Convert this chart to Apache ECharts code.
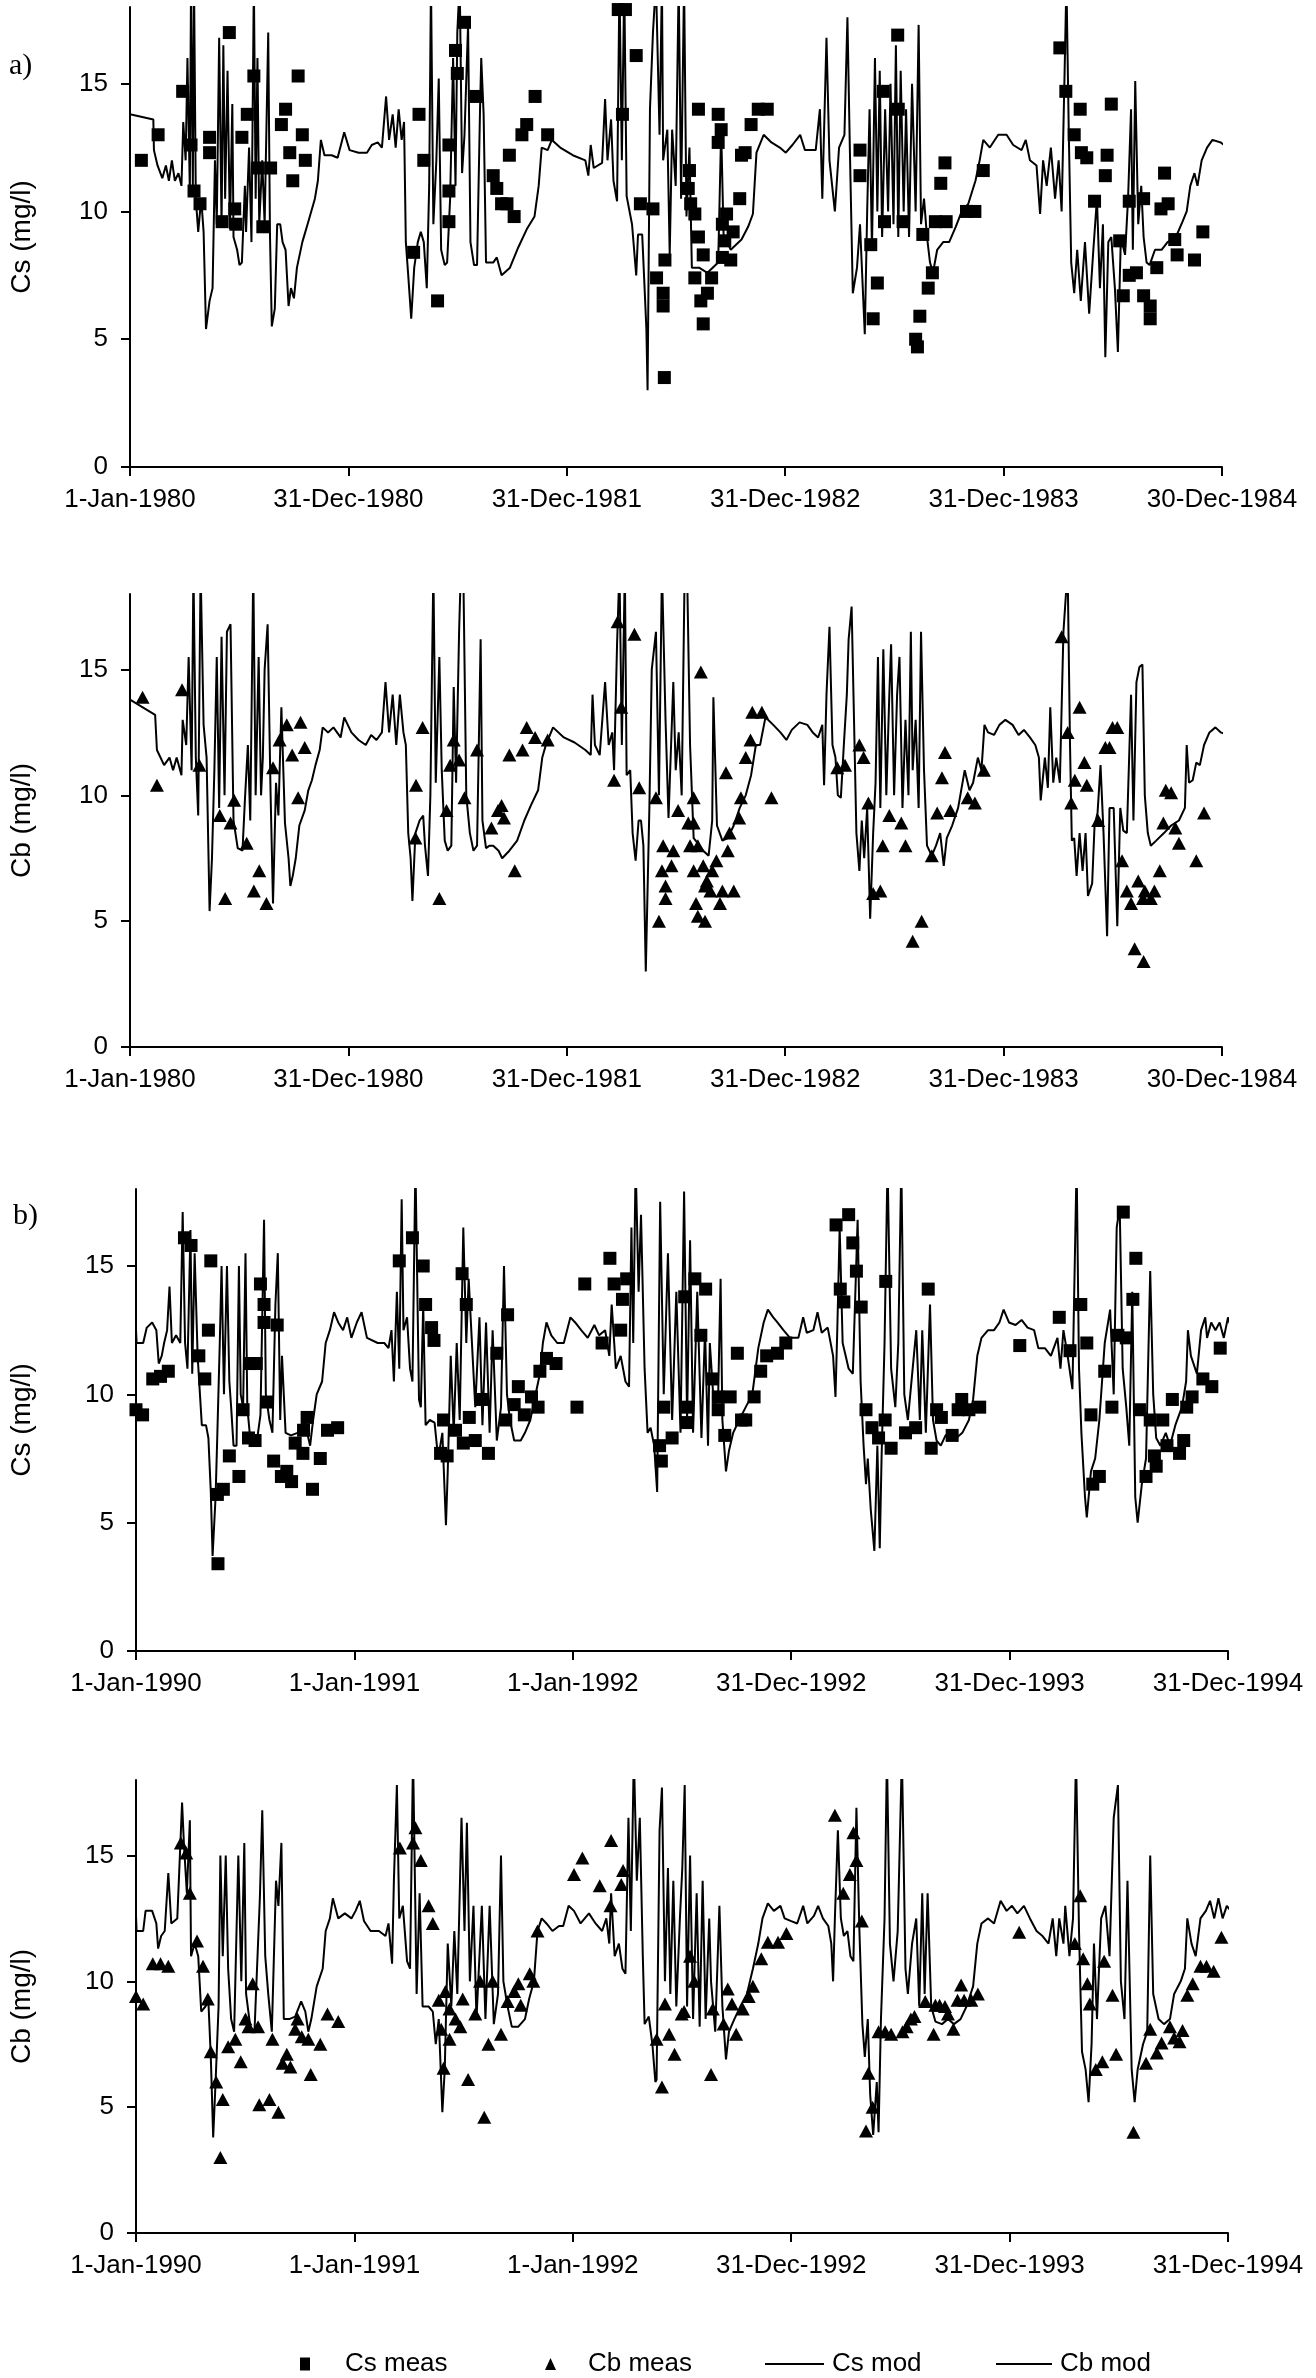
<!DOCTYPE html>
<html><head><meta charset="utf-8">
<script src="https://cdn.jsdelivr.net/npm/echarts@6/dist/echarts.min.js"></script>
<style>html,body{margin:0;padding:0;background:#fff}#c{width:1316px;height:2378px}</style>
</head><body><div id="c"></div>
<script>
// ---------- DATA (x = days since start date, y = mg/l) ----------
const xLabels80 = ['1-Jan-1980','31-Dec-1980','31-Dec-1981','31-Dec-1982','31-Dec-1983','30-Dec-1984'];
const xLabels90 = ['1-Jan-1990','1-Jan-1991','1-Jan-1992','31-Dec-1992','31-Dec-1993','31-Dec-1994'];
const yTicks = [0,5,10,15];

const csMod80 = [[0,13.8],[39,13.6],[40,12.4],[46,11.8],[54,11.3],[60,11.8],[65,11.2],[70,12.0],[75,11.2],[81,11.5],[86,11.0],[89,13.5],[93,12.0],[96,16.0],[100,10.8],[102,19],[105,11.0],[107,19],[110,10.5],[114,9.2],[119,10.5],[123,9.2],[127,5.4],[133,6.5],[138,7.0],[142,12.0],[145,9.5],[149,16.8],[153,9.5],[156,16.5],[159,10.5],[163,15.5],[167,9.3],[171,14.2],[173,9.0],[179,8.5],[183,7.9],[187,8.0],[192,11.0],[194,9.2],[199,12.5],[203,8.8],[207,19],[210,10.5],[213,16.0],[216,9.5],[221,12],[225,9.5],[231,17],[234,9.0],[237,5.5],[242,6.2],[246,9.5],[251,9.5],[255,8.8],[260,8.5],[265,6.3],[269,7.0],[274,6.6],[279,7.8],[288,8.8],[298,9.6],[309,10.5],[314,11.2],[319,12.8],[325,12.2],[337,12.2],[347,12.1],[358,13.1],[367,12.4],[382,12.3],[396,12.3],[404,12.6],[414,12.7],[421,12.5],[428,14.5],[433,12.8],[439,13.8],[444,12.5],[449,14.0],[454,12.8],[458,13.5],[461,8.8],[465,7.5],[470,5.8],[475,7.8],[481,8.8],[486,9.2],[491,8.8],[496,7.0],[500,11],[503,19],[507,9.5],[512,12],[516,15.2],[520,8.5],[526,7.9],[530,8.0],[535,10.5],[540,16],[544,11],[547,17],[551,19],[555,11.5],[559,13],[565,17.3],[569,8.8],[575,7.9],[580,7.9],[585,14.0],[587,16],[591,13.8],[595,8.0],[607,8.0],[613,8.2],[621,7.5],[635,7.8],[649,8.6],[663,9.3],[676,9.8],[683,11.0],[688,12.5],[698,12.4],[705,12.8],[719,12.5],[740,12.2],[761,12.0],[766,11.4],[770,12.6],[775,11.7],[789,11.9],[794,14.4],[798,12.0],[804,13.6],[808,11.2],[814,10.4],[818,19],[822,12],[826,19],[830,10.6],[839,9.5],[846,7.5],[849,9.1],[856,9.1],[860,7.0],[863,5.4],[865,3.0],[869,14.0],[874,17],[879,19],[885,13],[889,19],[891,12],[898,13.2],[902,8.3],[906,13.2],[912,11],[917,19],[921,10.5],[926,19],[930,9.8],[935,12.5],[939,7.8],[951,7.8],[965,7.6],[983,8.0],[988,13.2],[992,9.1],[1004,8.5],[1022,8.9],[1033,9.4],[1041,9.9],[1047,12.3],[1059,13.0],[1072,12.7],[1086,12.5],[1096,12.3],[1107,12.6],[1120,13.0],[1128,12.4],[1146,12.4],[1153,14.0],[1157,10.5],[1164,16.8],[1169,12.0],[1178,10.0],[1185,12.5],[1194,13.0],[1199,17.6],[1203,12.5],[1208,6.8],[1215,7.8],[1220,9.5],[1228,5.2],[1232,10],[1236,14.0],[1240,8.5],[1245,16.0],[1249,10.0],[1253,15.5],[1257,9.0],[1262,14.0],[1267,10],[1271,15],[1276,9.5],[1280,16.5],[1284,9.0],[1288,15.5],[1293,10],[1297,14],[1302,9],[1307,15],[1313,10],[1318,17.3],[1322,9.5],[1327,10.5],[1332,9.0],[1337,8.0],[1342,7.6],[1349,8.5],[1359,8.8],[1369,8.8],[1380,9.4],[1390,10.0],[1401,10.3],[1413,11.2],[1420,12.0],[1426,12.8],[1437,12.5],[1451,13.0],[1465,13.0],[1476,12.6],[1490,12.4],[1497,12.8],[1504,12.0],[1515,11.8],[1521,9.9],[1526,12.0],[1532,11.0],[1539,12.5],[1546,10.5],[1552,12],[1557,10],[1562,15.5],[1565,19],[1569,13.0],[1573,8.0],[1578,6.8],[1583,8.5],[1589,6.5],[1596,8.8],[1603,6.0],[1610,8.5],[1616,10.5],[1621,7.0],[1626,9.5],[1630,4.3],[1635,8.8],[1640,9.0],[1646,7.0],[1651,4.5],[1656,9.0],[1663,8.3],[1668,10.5],[1673,14.0],[1676,8.5],[1680,15.1],[1685,9.5],[1690,11],[1694,9.0],[1699,8.0],[1704,7.9],[1713,8.5],[1724,8.5],[1734,8.8],[1748,9.0],[1759,9.6],[1766,10.0],[1772,11.0],[1779,11.5],[1784,11.0],[1791,12.0],[1800,12.5],[1809,12.8],[1823,12.7],[1834,12.5]];

const csMeas80 = [[19,12.0],[47,13.0],[88,14.7],[102,12.6],[107,10.8],[117,10.3],[133,12.9],[133,12.3],[154,9.6],[166,17.0],[175,10.1],[177,9.5],[187,12.9],[196,13.8],[207,15.3],[213,11.7],[222,9.4],[235,11.7],[253,13.4],[260,14.0],[267,12.3],[272,11.2],[281,15.3],[288,13.0],[293,12.0],[474,8.4],[483,13.8],[491,12.0],[514,6.5],[533,12.6],[533,10.8],[533,9.6],[544,16.3],[547,15.4],[559,17.4],[578,14.5],[607,11.4],[613,10.9],[621,10.3],[630,10.3],[634,12.2],[642,9.8],[655,13.0],[663,13.4],[677,14.5],[698,13.0],[816,17.9],[823,13.8],[828,17.9],[846,16.1],[853,10.3],[874,10.1],[880,7.4],[891,6.8],[891,6.3],[893,3.5],[894,8.1],[933,10.9],[935,11.6],[937,10.3],[944,9.9],[944,7.4],[950,14.0],[950,9.0],[954,6.5],[958,8.3],[958,5.6],[965,6.8],[972,7.4],[983,13.8],[983,12.7],[988,13.2],[990,9.5],[990,8.2],[994,8.85],[997,9.9],[1004,8.1],[1008,9.2],[1019,10.5],[1022,12.2],[1028,12.3],[1038,13.4],[1050,14.0],[1065,14.0],[1220,12.4],[1220,11.4],[1238,8.7],[1242,5.8],[1249,7.2],[1259,14.7],[1261,9.6],[1283,16.9],[1284,14.0],[1292,9.6],[1313,5.0],[1316,4.7],[1320,5.9],[1325,9.1],[1334,7.0],[1341,7.6],[1346,9.6],[1355,11.1],[1362,11.9],[1364,9.6],[1398,10.0],[1412,10.0],[1426,11.6],[1554,16.4],[1564,14.7],[1578,13.0],[1588,14.0],[1590,12.3],[1599,12.1],[1612,10.4],[1630,11.4],[1633,12.2],[1640,14.2],[1654,8.85],[1660,6.7],[1670,10.4],[1670,7.5],[1682,7.6],[1694,10.5],[1694,6.7],[1705,6.3],[1705,5.8],[1716,7.8],[1723,10.1],[1729,11.5],[1735,10.3],[1746,8.9],[1750,8.3],[1779,8.1],[1793,9.2]];

const cbMod80 = [[0,13.8],[42,13.2],[45,11.8],[57,11.2],[66,11.5],[72,11.0],[78,11.5],[86,10.8],[88,13.0],[94,12.0],[98,15.5],[103,11.0],[106,19],[110,11.5],[114,9.2],[118,19],[123,12.8],[128,11.5],[133,5.4],[137,7.5],[141,11.0],[145,15.5],[149,9.5],[153,16.3],[158,10],[162,16.5],[168,16.8],[173,9.0],[180,7.9],[188,7.8],[192,9.8],[197,12],[201,9.0],[206,19],[210,10],[215,15.5],[219,10],[222,11.5],[225,15],[230,16.8],[235,10],[239,5.7],[244,10.5],[248,9.2],[253,13.5],[259,8.9],[265,7.5],[268,6.4],[272,6.8],[277,7.5],[283,8.8],[292,9.4],[298,10.2],[304,10.6],[310,11.2],[317,11.8],[322,12.7],[331,12.5],[340,12.7],[352,12.3],[358,13.1],[370,12.5],[382,12.2],[394,12.0],[403,12.4],[412,12.2],[421,12.5],[427,14.5],[433,12.5],[439,14.0],[445,12.0],[451,14.0],[457,12.5],[461,12],[465,8.5],[469,7.5],[472,5.8],[477,8.5],[484,9.0],[490,9.2],[493,8.0],[498,6.8],[502,10],[507,19],[511,10.5],[517,15.5],[521,11],[526,8.2],[531,7.8],[537,8.0],[541,14.3],[545,10.5],[550,16.5],[553,19],[557,19],[562,10.0],[568,8.5],[574,7.8],[580,8.0],[586,16.2],[589,9],[595,7.9],[601,8.0],[607,8.0],[616,7.8],[622,7.5],[634,7.8],[647,8.2],[659,9.0],[670,9.6],[682,10.2],[689,11.5],[695,12.0],[707,12.7],[725,12.3],[743,12.1],[761,11.8],[770,11.6],[773,14.0],[777,12.0],[785,11.6],[794,14.5],[800,12],[806,12.5],[809,11.0],[814,16],[818,19],[822,12],[827,19],[830,10.8],[836,11.0],[840,8.5],[845,7.4],[850,9.0],[854,9.0],[858,8.0],[862,3.0],[868,9.5],[872,15],[879,16.5],[884,10],[889,19],[895,13],[900,9.1],[908,14.5],[912,11],[917,12.5],[922,10],[927,19],[931,19],[936,12],[942,8.3],[952,8.0],[958,7.8],[967,7.6],[973,9],[975,13.9],[981,8.8],[990,8.2],[999,8.3],[1009,8.8],[1019,9.5],[1029,10.0],[1038,10.8],[1046,12.0],[1053,12.0],[1062,13.1],[1075,12.8],[1087,12.5],[1097,12.2],[1106,12.6],[1119,12.9],[1132,12.8],[1141,12.5],[1150,12.3],[1157,12.8],[1160,10.4],[1164,14.0],[1169,16.7],[1174,12],[1179,11.5],[1183,10.0],[1188,9.9],[1193,12],[1198,14.0],[1201,16.2],[1206,17.5],[1210,13],[1214,8.5],[1219,7.0],[1223,9],[1227,7.5],[1232,9.5],[1237,5.1],[1242,8.5],[1246,10.5],[1250,15.5],[1254,9.5],[1259,15.8],[1264,10],[1269,14],[1272,16],[1277,10],[1282,14],[1286,15.5],[1291,9.5],[1296,13],[1301,10],[1305,16.5],[1308,11],[1313,13],[1318,9.5],[1322,16.5],[1327,11],[1332,8.0],[1340,7.6],[1347,8.0],[1354,8.5],[1360,7.2],[1365,8.3],[1374,8.8],[1384,9.5],[1395,11.0],[1403,10.2],[1409,10.5],[1417,11.5],[1423,11.0],[1428,12.8],[1434,12.5],[1444,12.4],[1453,12.8],[1463,13.0],[1475,12.8],[1485,12.4],[1494,12.6],[1504,12.3],[1513,12.0],[1519,11.5],[1522,9.8],[1529,11.5],[1534,10.3],[1538,13.5],[1543,10.5],[1548,11.5],[1554,10.5],[1560,16.5],[1567,19],[1571,12],[1574,8.2],[1578,8.3],[1582,6.8],[1587,8.5],[1592,7.0],[1597,8.5],[1601,6.0],[1608,6.5],[1612,8.8],[1617,9.3],[1622,11.2],[1627,8.5],[1633,4.4],[1637,9.5],[1644,9.5],[1650,4.8],[1655,9.5],[1660,8.6],[1666,8.5],[1673,14.0],[1677,9.0],[1682,14.5],[1687,15.1],[1692,15.2],[1696,10],[1701,8.5],[1706,8.0],[1715,8.2],[1728,8.5],[1740,8.8],[1753,9.0],[1763,9.5],[1766,12.0],[1770,10.5],[1776,10.6],[1782,11.3],[1788,11.2],[1795,12.0],[1804,12.5],[1814,12.7],[1823,12.5],[1835,12.4]];

const cbMeas80 = [[21,13.9],[45,10.4],[87,14.2],[116,11.2],[150,9.2],[159,5.9],[168,8.9],[174,9.8],[195,8.1],[207,6.2],[216,7.0],[228,5.7],[239,11.1],[250,12.2],[262,12.8],[271,11.6],[281,9.9],[285,12.9],[292,11.9],[477,8.3],[478,10.4],[489,12.7],[517,5.9],[529,9.4],[535,11.2],[541,12.2],[550,11.4],[559,9.9],[580,11.8],[604,8.7],[615,9.4],[621,9.6],[625,9.1],[634,11.6],[643,7.0],[656,11.8],[663,12.7],[677,12.3],[698,12.2],[809,10.6],[815,16.9],[821,13.5],[843,16.4],[851,10.3],[879,9.9],[884,5.0],[889,7.0],[891,8.0],[895,6.4],[895,5.9],[905,7.2],[908,7.8],[916,9.4],[933,8.9],[936,8.0],[942,8.9],[942,9.9],[942,7.0],[946,5.7],[949,8.0],[949,5.2],[954,14.9],[958,7.2],[961,5.0],[961,6.4],[964,6.6],[970,6.2],[973,7.0],[980,7.4],[986,5.7],[990,6.2],[996,10.9],[999,7.8],[1002,8.5],[1009,6.2],[1018,9.1],[1021,9.9],[1029,11.5],[1037,12.2],[1040,13.3],[1056,13.3],[1072,9.9],[1182,11.1],[1195,11.2],[1219,12.0],[1226,11.5],[1234,9.7],[1242,6.1],[1254,6.2],[1258,8.0],[1269,9.2],[1289,8.9],[1296,8.0],[1308,4.2],[1323,5.0],[1340,7.6],[1349,9.3],[1357,10.7],[1362,11.7],[1371,9.4],[1400,9.9],[1412,9.7],[1427,11.0],[1557,16.3],[1567,12.5],[1573,9.7],[1579,10.6],[1587,13.5],[1595,11.3],[1599,10.4],[1618,9.0],[1630,11.9],[1637,11.9],[1642,12.7],[1650,12.7],[1658,7.4],[1666,6.2],[1673,5.7],[1679,3.9],[1685,6.6],[1693,5.9],[1694,3.4],[1696,6.2],[1706,5.9],[1712,6.2],[1721,7.0],[1727,8.9],[1731,10.2],[1740,10.1],[1747,8.7],[1753,8.1],[1782,7.4],[1795,9.3]];

const csMod90 = [[0,12.5],[1,12.0],[12,12.0],[18,12.6],[27,12.8],[34,12.5],[38,11.2],[43,11.5],[47,12.0],[52,12.5],[56,14.2],[60,12.0],[67,12.3],[74,12.0],[78,17.1],[82,12],[86,11.0],[91,16.4],[94,10.8],[98,15.5],[103,11.5],[110,8.8],[117,8.8],[121,8.3],[125,6.2],[128,3.7],[133,6.0],[136,8.5],[140,12.0],[143,15.0],[147,10],[152,15.0],[156,10.5],[159,9.5],[163,8.0],[168,8.0],[172,15.0],[175,10.0],[179,9.5],[183,15.5],[186,9.5],[190,8.5],[195,8.0],[201,8.0],[208,9.2],[214,16.8],[217,10.0],[223,9.0],[228,8.5],[233,13.5],[237,15.5],[241,9.0],[244,11.5],[250,8.5],[259,8.4],[270,8.5],[281,9.0],[288,8.3],[291,8.0],[296,9.0],[302,10.0],[311,10.5],[317,12.0],[324,12.5],[331,13.2],[338,12.8],[346,12.5],[353,13.0],[360,12.2],[369,12.8],[377,13.2],[386,12.2],[404,12.0],[415,12.0],[422,11.8],[427,12.5],[431,10.5],[436,14.0],[440,11.0],[444,17.6],[447,12.5],[453,13.0],[458,11.0],[462,10.5],[467,19],[473,9.8],[476,9.5],[480,13.5],[484,8.8],[491,9.0],[499,8.9],[505,7.5],[512,8.5],[518,4.9],[521,7.0],[526,11.5],[531,8.5],[536,12],[541,9.0],[547,16.5],[552,12.0],[556,14.5],[561,12.2],[567,9.5],[574,13.0],[579,8.8],[585,12.8],[591,8.5],[596,12.5],[603,8.2],[610,9.5],[615,15.0],[620,10],[625,9.0],[632,8.2],[643,8.2],[650,8.5],[659,9.0],[666,9.8],[675,10.8],[680,12.0],[686,12.8],[694,12.3],[704,12.0],[715,12.0],[726,13.0],[734,12.8],[744,12.5],[755,12.2],[766,12.7],[774,12.3],[784,12.5],[791,11.5],[795,13.5],[802,11.0],[810,11.5],[818,10.5],[824,10.3],[828,16.5],[831,12.0],[835,19],[840,14.0],[844,17.0],[850,11.0],[855,8.5],[860,8.7],[866,8.0],[871,6.2],[876,17.5],[882,10],[889,15.5],[896,9.0],[903,14.0],[910,8.5],[916,17.9],[921,9.0],[926,16.0],[931,8.5],[938,14.0],[945,8.3],[951,12.5],[956,8.0],[959,12.0],[966,9.5],[973,10.0],[977,14.5],[980,9.0],[986,7.0],[991,7.8],[998,8.5],[1008,9.0],[1019,9.5],[1030,10.0],[1040,11.8],[1049,12.8],[1056,13.3],[1065,13.0],[1072,12.8],[1082,12.5],[1093,12.2],[1107,12.2],[1115,13.0],[1121,12.4],[1132,12.5],[1139,13.2],[1146,12.4],[1156,12.6],[1165,11.5],[1169,9.9],[1172,12.5],[1176,16.5],[1181,12.0],[1186,11.5],[1191,11.0],[1198,10.8],[1206,16.8],[1211,10.5],[1216,8.0],[1220,6.5],[1223,7.5],[1228,5.5],[1234,3.9],[1239,8.0],[1243,4.0],[1246,7.5],[1251,12.0],[1256,19],[1262,11.0],[1269,9.5],[1274,12.0],[1279,19],[1284,10.0],[1290,9.0],[1298,11.0],[1304,12.5],[1310,9.0],[1314,12.5],[1320,8.5],[1327,13.5],[1332,9.0],[1338,8.2],[1345,8.0],[1353,8.4],[1360,8.5],[1371,8.3],[1381,8.5],[1392,9.0],[1399,9.8],[1406,11.5],[1413,12.2],[1424,12.5],[1434,12.5],[1443,12.8],[1450,13.3],[1459,12.8],[1470,12.7],[1480,12.9],[1490,12.6],[1501,12.5],[1508,11.8],[1519,11.8],[1529,11.5],[1540,12.2],[1545,11.0],[1550,12.5],[1557,11.5],[1565,10.2],[1572,19],[1576,11.0],[1580,8.5],[1586,6.0],[1589,5.2],[1596,7.0],[1603,7.5],[1610,9.0],[1619,12],[1628,13.3],[1634,10],[1639,16.5],[1644,17.3],[1649,11.0],[1655,9.5],[1660,8.0],[1665,14.0],[1670,6.0],[1674,5.0],[1681,6.5],[1688,7.5],[1695,14.8],[1700,10],[1705,8.3],[1712,8.0],[1721,8.5],[1728,8.0],[1737,8.8],[1748,9.5],[1755,10.5],[1758,12.5],[1763,11.5],[1773,10.8],[1780,12.5],[1787,13.0],[1790,12.2],[1797,12.8],[1804,12.5],[1811,12.8],[1818,12.2],[1825,13.0],[1831,12.5]];

const csMeas90 = [[0,9.4],[11,9.2],[28,10.6],[41,10.7],[54,10.9],[81,16.1],[92,15.8],[105,11.5],[115,10.6],[121,12.5],[125,15.2],[136,6.1],[137,3.4],[146,6.3],[156,7.6],[172,6.8],[179,9.4],[188,8.3],[190,11.2],[199,8.2],[201,11.2],[208,14.3],[214,13.5],[214,12.8],[219,9.7],[230,7.4],[236,12.7],[243,6.8],[252,7.0],[260,6.6],[266,8.1],[279,7.7],[280,8.6],[286,9.1],[295,6.3],[308,7.5],[320,8.6],[337,8.7],[440,15.2],[462,16.1],[480,15.0],[484,13.5],[494,12.6],[498,12.1],[509,7.7],[514,9.0],[520,7.6],[534,8.6],[545,14.7],[547,8.1],[552,13.5],[557,9.1],[567,8.2],[578,9.8],[589,7.7],[603,11.6],[618,9.0],[621,13.1],[632,9.6],[639,10.3],[649,9.2],[661,9.9],[672,9.5],[675,10.9],[686,11.4],[702,11.2],[737,9.5],[750,14.3],[779,12.0],[792,15.3],[799,14.3],[810,12.5],[813,13.7],[820,14.5],[882,9.5],[875,8.0],[878,7.4],[896,8.3],[917,13.8],[921,8.9],[922,9.5],[934,14.5],[944,12.3],[952,14.1],[963,10.6],[973,9.9],[973,9.4],[984,8.4],[993,9.9],[1005,11.6],[1012,9.0],[1019,9.0],[1033,9.9],[1044,10.9],[1054,11.5],[1072,11.6],[1086,12.0],[1170,16.6],[1177,14.1],[1183,13.6],[1191,17.0],[1198,15.9],[1204,14.8],[1212,13.4],[1220,9.4],[1230,8.7],[1241,8.3],[1252,9.0],[1253,14.4],[1262,7.9],[1286,8.5],[1303,8.7],[1324,14.1],[1329,7.9],[1338,9.4],[1346,9.1],[1364,8.4],[1374,9.4],[1380,9.8],[1392,9.4],[1410,9.5],[1477,11.9],[1543,13.0],[1561,11.7],[1579,13.5],[1589,12.0],[1596,9.2],[1599,6.5],[1610,6.8],[1619,10.9],[1631,9.5],[1641,12.3],[1650,17.1],[1655,12.2],[1666,13.7],[1671,15.3],[1677,9.4],[1688,6.8],[1695,9.0],[1702,7.6],[1705,7.2],[1716,9.0],[1723,8.0],[1732,9.8],[1744,7.7],[1751,8.2],[1756,9.5],[1765,9.9],[1783,10.6],[1798,10.3],[1812,11.8]];

const cbMod90 = [[0,12.6],[1,12.0],[12,12.0],[16,12.8],[27,12.8],[34,12.3],[37,11.3],[42,11.8],[48,12.0],[54,14.3],[59,12.3],[69,12.5],[77,17.1],[80,15.5],[85,13.5],[90,16.4],[92,11.0],[98,11.5],[104,11.0],[109,8.8],[116,9.0],[121,9.2],[125,7.0],[129,3.8],[133,6.0],[138,9.0],[141,15.0],[145,11],[150,15.0],[154,10.5],[159,8.5],[164,8.0],[171,15.0],[176,10],[181,15.5],[184,9.5],[191,8.2],[198,8.0],[207,13.3],[211,16.8],[216,11.0],[221,9.5],[227,8.0],[234,14.0],[238,13.0],[243,15.5],[247,8.5],[256,8.5],[266,8.6],[276,9.2],[283,8.8],[288,8.0],[293,8.5],[302,9.8],[312,10.5],[317,12.0],[324,12.5],[329,13.3],[338,12.5],[349,12.7],[360,12.5],[367,12.8],[374,13.2],[381,12.4],[392,12.0],[406,12.0],[417,11.8],[422,12.3],[428,10.7],[431,14.0],[436,17.8],[440,12.5],[446,13.0],[453,10.8],[458,10.5],[463,19],[469,9.5],[474,13.5],[479,9.0],[489,9.0],[496,8.8],[501,7.5],[506,8.5],[512,4.8],[516,6.5],[521,11.5],[527,9.0],[532,12.0],[537,9.5],[544,16.5],[549,12.0],[553,16.3],[558,10.0],[564,13.0],[569,8.5],[578,13.0],[584,8.5],[591,13.0],[598,8.3],[605,9.5],[610,15.0],[614,10],[621,9.0],[628,8.2],[639,8.2],[650,8.5],[657,9.3],[665,10.0],[671,12.0],[678,12.5],[686,12.3],[696,12.0],[707,12.2],[714,12.2],[723,13.0],[732,12.8],[743,12.3],[757,12.7],[768,12.3],[779,12.0],[786,12.5],[791,11.5],[794,13.5],[800,11.0],[807,11.5],[813,10.5],[818,10.3],[823,16.5],[827,12],[832,19],[837,14.0],[842,16.5],[847,11.0],[850,8.3],[857,8.6],[863,7.5],[868,6.0],[870,6.1],[875,16],[879,17.7],[884,10],[889,14.5],[893,9.5],[898,14.0],[903,9.0],[909,12.5],[913,14.5],[917,17.8],[921,9.0],[926,15.0],[931,8.5],[937,13.5],[942,8.2],[947,14.0],[952,8.5],[958,12.5],[961,10.0],[968,8.0],[975,13.0],[980,9.0],[986,6.9],[991,8.0],[1000,8.5],[1010,9.0],[1021,9.5],[1031,10.5],[1040,11.5],[1047,12.5],[1056,13.1],[1066,12.8],[1077,13.0],[1084,12.5],[1094,12.4],[1105,12.3],[1115,13.0],[1122,12.3],[1133,12.6],[1140,13.0],[1148,12.5],[1157,12.2],[1162,11.5],[1165,10.0],[1168,12.5],[1173,16.0],[1178,12.5],[1183,11.8],[1189,12.0],[1194,11.0],[1199,10.8],[1204,16.9],[1209,12.0],[1214,8.3],[1218,7.0],[1223,8.5],[1227,5.5],[1232,3.9],[1238,6.0],[1241,4.0],[1245,8.5],[1251,12.5],[1255,19],[1260,11.5],[1266,10.0],[1273,12.0],[1280,19],[1286,10.5],[1290,9.5],[1297,11.5],[1304,12.5],[1309,9.0],[1314,13.5],[1318,9.5],[1323,13.5],[1329,9.0],[1336,8.4],[1347,8.3],[1357,8.5],[1367,8.3],[1378,8.5],[1388,9.0],[1399,9.8],[1406,11.5],[1413,12.3],[1424,12.5],[1434,12.3],[1445,13.2],[1455,12.8],[1464,13.0],[1473,12.7],[1484,13.0],[1494,12.5],[1505,12.0],[1515,11.8],[1525,11.5],[1532,12.5],[1538,11.0],[1543,12.5],[1550,11.5],[1553,13.0],[1560,11.0],[1566,12.5],[1571,19],[1576,12.0],[1581,7.2],[1587,6.5],[1592,5.2],[1597,7.5],[1601,11.5],[1606,8.5],[1613,12.5],[1620,13.0],[1627,11],[1634,16.5],[1641,17.8],[1646,10.0],[1652,8.5],[1657,14.0],[1664,6.5],[1669,5.2],[1674,6.5],[1683,7.5],[1690,8.0],[1695,15.0],[1700,9.5],[1709,8.5],[1718,8.3],[1728,8.5],[1735,9.5],[1746,10.0],[1753,10.5],[1757,12.5],[1764,11.5],[1771,11.0],[1779,12.5],[1788,12.8],[1795,13.2],[1802,12.5],[1809,13.3],[1816,12.5],[1823,13.0],[1833,12.7]];

const cbMeas90 = [[0,9.4],[12,9.1],[28,10.7],[41,10.7],[54,10.6],[75,15.5],[84,15.1],[90,13.5],[102,11.6],[112,10.6],[120,9.3],[125,7.2],[134,6.0],[141,3.0],[145,5.3],[154,7.4],[166,7.7],[175,6.8],[183,8.5],[188,8.2],[195,9.9],[204,8.2],[206,5.1],[223,5.3],[228,7.7],[238,4.8],[245,6.75],[252,7.1],[258,6.6],[266,8.1],[270,8.5],[277,7.8],[288,7.7],[292,6.3],[308,7.5],[320,8.7],[338,8.4],[441,15.3],[463,15.5],[467,16.1],[476,14.8],[489,13.0],[496,12.3],[506,9.25],[510,8.1],[514,6.55],[517,9.6],[524,7.7],[524,8.9],[534,8.5],[542,8.2],[546,9.3],[555,6.1],[567,8.7],[575,10.0],[582,4.6],[589,7.5],[596,10.0],[610,7.9],[621,9.2],[632,9.6],[639,9.9],[643,9.05],[658,10.3],[664,10.0],[671,12.0],[732,14.25],[746,14.9],[775,13.8],[793,13.0],[794,15.6],[811,13.85],[814,14.4],[870,7.7],[879,5.8],[884,9.1],[891,7.9],[900,7.1],[912,8.7],[916,8.8],[926,11.0],[933,10.0],[961,6.3],[964,8.9],[982,8.3],[989,9.7],[996,9.1],[1003,7.9],[1014,8.9],[1024,9.4],[1031,9.8],[1045,10.9],[1056,11.55],[1073,11.55],[1087,11.9],[1168,16.6],[1182,13.5],[1193,14.25],[1199,15.9],[1204,14.8],[1213,12.4],[1220,4.05],[1224,6.35],[1231,5.0],[1241,8.0],[1252,8.0],[1262,7.9],[1281,8.0],[1288,8.2],[1295,8.5],[1301,8.6],[1319,9.2],[1333,7.9],[1336,9.05],[1343,9.05],[1352,9.0],[1357,8.7],[1366,8.1],[1373,9.25],[1379,9.85],[1384,9.25],[1396,9.25],[1407,9.5],[1476,11.95],[1569,11.5],[1578,13.4],[1583,10.9],[1590,9.9],[1594,9.1],[1604,6.5],[1615,6.8],[1618,10.8],[1632,9.45],[1638,7.1],[1667,4.0],[1688,6.75],[1695,8.1],[1706,7.15],[1714,7.55],[1728,8.2],[1735,7.75],[1744,7.6],[1749,8.05],[1757,9.45],[1766,9.9],[1779,10.6],[1789,10.6],[1801,10.4],[1814,11.75]];

// ---------- CHART ----------
const FONT = "'Liberation Sans', Arial, sans-serif";
const grids = [
  {left:124, top:7,    width:1098, height:460},
  {left:123, top:594,  width:1099, height:453},
  {left:131, top:1189, width:1097, height:462},
  {left:131, top:1780, width:1097, height:453}
];
const xLabelSets = [xLabels80, xLabels80, xLabels90, xLabels90];
const yNames = ['Cs (mg/l)','Cb (mg/l)','Cs (mg/l)','Cb (mg/l)'];

const xAxis = grids.map((g,i)=>({
  gridIndex:i, type:'value', min:0, max:1825, interval:365,
  axisLine:{show:true, onZero:false, lineStyle:{color:'#000', width:2}},
  axisTick:{show:true, length:9, lineStyle:{color:'#000', width:2}},
  splitLine:{show:false},
  axisLabel:{color:'#000', fontFamily:FONT, fontSize:26, margin:20,
    formatter:v=>xLabelSets[i][Math.round(v/365)] || ''}
}));
const yAxis = grids.map((g,i)=>({
  gridIndex:i, type:'value', min:0, max:18, interval:5,
  axisLine:{show:true, lineStyle:{color:'#000', width:2}},
  axisTick:{show:true, length:9, customValues:yTicks, lineStyle:{color:'#000', width:2}},
  splitLine:{show:false},
  axisLabel:{color:'#000', fontFamily:FONT, fontSize:26, margin:22, customValues:yTicks},
  name:yNames[i], nameLocation:'middle', nameGap: i<2 ? 94 : 100,
  nameTextStyle:{color:'#000', fontFamily:FONT, fontSize:28}
}));

function lineS(name, data, i){ return {name, type:'line', xAxisIndex:i, yAxisIndex:i, data,
  showSymbol:false, symbol:'none', clip:true, lineStyle:{color:'#000', width:2}, itemStyle:{color:'#000'}, z:2}; }
function sqS(data, i){ return {name:'Cs meas', type:'scatter', xAxisIndex:i, yAxisIndex:i, data,
  symbol:'rect', symbolSize:13, itemStyle:{color:'#000', opacity:1}, z:3}; }
function trS(data, i){ return {name:'Cb meas', type:'scatter', xAxisIndex:i, yAxisIndex:i, data,
  symbol:'triangle', symbolSize:[14,13], itemStyle:{color:'#000', opacity:1}, z:3}; }

const series = [
  lineS('Cs mod', csMod80, 0), sqS(csMeas80, 0),
  lineS('Cb mod', cbMod80, 1), trS(cbMeas80, 1),
  lineS('Cs mod', csMod90, 2), sqS(csMeas90, 2),
  lineS('Cb mod', cbMod90, 3), trS(cbMeas90, 3)
];

const legTxt = {color:'#000', fontFamily:FONT, fontSize:26};
const legend = [
  {data:[{name:'Cs meas', icon:'rect', itemStyle:{opacity:1}}], left:295, top:2346, itemWidth:10, itemHeight:13, selectedMode:false,
   textStyle:Object.assign({}, legTxt, {padding:[0,0,0,30]})},
  {data:[{name:'Cb meas', icon:'triangle', itemStyle:{opacity:1}}], left:540, top:2346, itemWidth:11, itemHeight:12, selectedMode:false,
   textStyle:Object.assign({}, legTxt, {padding:[0,0,0,27]})},
  {data:[{name:'Cs mod', icon:'rect'}], left:760, top:2346, itemWidth:59, itemHeight:2, selectedMode:false,
   textStyle:Object.assign({}, legTxt, {padding:[0,0,0,3]})},
  {data:[{name:'Cb mod', icon:'rect'}], left:991, top:2346, itemWidth:56, itemHeight:2, selectedMode:false,
   textStyle:Object.assign({}, legTxt, {padding:[0,0,0,3]})}
];

const title = [
  {text:'a)', left:4, top:46, textStyle:{fontFamily:"'Liberation Serif', 'Times New Roman', serif", fontSize:30, fontWeight:'normal', color:'#000'}},
  {text:'b)', left:8, top:1196, textStyle:{fontFamily:"'Liberation Serif', 'Times New Roman', serif", fontSize:30, fontWeight:'normal', color:'#000'}}
];

const chart = echarts.init(document.getElementById('c'), null, {renderer:'canvas'});
chart.setOption({backgroundColor:'#fff', animation:false, title, legend, grid:grids, xAxis, yAxis, series});
</script></body></html>
